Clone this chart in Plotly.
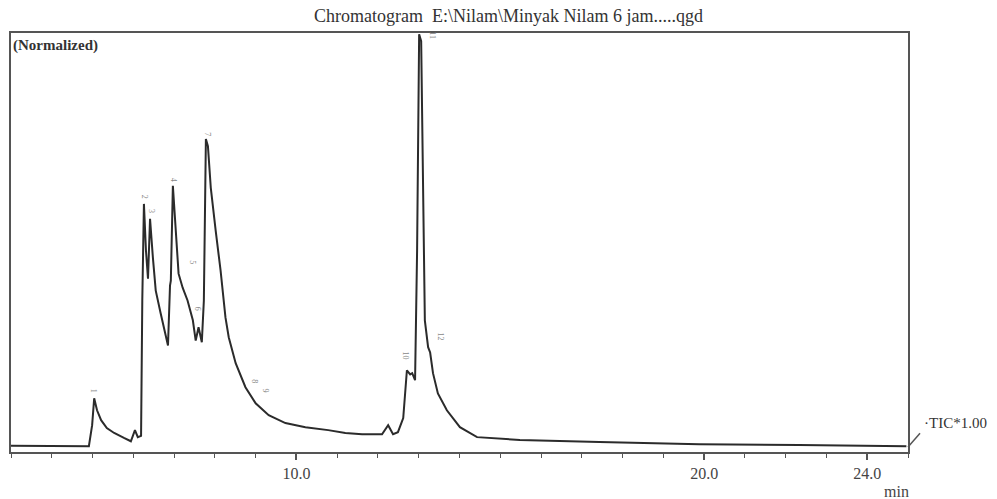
import plotly.graph_objects as go

# Retention time (min) and normalized intensity (%)
time_min = [3.00, 3.99, 4.91, 4.99, 5.04, 5.11, 5.21, 5.35, 5.53, 5.77, 5.94, 6.04, 6.11, 6.19,
            6.22, 6.26, 6.31, 6.36, 6.41, 6.48, 6.55, 6.67, 6.80, 6.85, 6.90, 6.92, 6.97, 7.04,
            7.11, 7.21, 7.33, 7.46, 7.53, 7.60, 7.68, 7.73, 7.78, 7.83, 7.90, 8.02, 8.14, 8.26,
            8.34, 8.51, 8.75, 9.00, 9.32, 9.73, 10.22, 10.78, 11.20, 11.61, 12.10, 12.25, 12.37,
            12.49, 12.62, 12.71, 12.79, 12.84, 12.91, 12.96, 13.01, 13.06, 13.11, 13.15, 13.23,
            13.28, 13.35, 13.47, 13.69, 14.01, 14.43, 15.48, 17.43, 19.88, 22.32, 24.96]
intensity = [0.3, 0.2, 0.2, 5.3, 11.8, 8.9, 6.5, 4.6, 3.4, 2.2, 1.4, 4.1, 2.4, 2.7,
             35.5, 58.9, 47.6, 40.8, 55.3, 45.9, 37.9, 32.4, 26.6, 24.6, 39.1, 40.3, 63.3, 52.4,
             42.0, 38.6, 35.5, 30.7, 25.8, 29.0, 25.4, 35.5, 74.6, 72.9, 62.8, 52.4, 42.8, 31.4,
             26.6, 20.3, 14.5, 10.6, 7.7, 5.8, 4.8, 4.1, 3.4, 3.1, 3.1, 5.3, 3.1,
             3.6, 7.0, 18.6, 17.6, 17.9, 16.2, 47.6, 100.0, 98.3, 59.7, 30.7, 24.2,
             22.9, 17.9, 13.0, 8.9, 4.8, 2.4, 1.7, 1.2, 0.7, 0.5, 0.2]

# Peak number labels
peak_ids = ["1", "2", "3", "4", "5", "6", "7", "8", "9", "10", "11", "12"]
peak_t = [5.04, 6.26, 6.45, 6.97, 7.45, 7.58, 7.80, 8.98, 9.25, 12.68, 13.35, 13.54]
peak_y = [12.6, 59.7, 56.3, 63.8, 43.7, 32.6, 74.9, 15.0, 12.8, 20.8, 98.3, 25.4]

tick_vals = [10, 20, 24]
tick_text = ["10.0", "20.0", "24.0"]

FONT = "Liberation Serif, Times New Roman, serif"
AX = "#555555"

fig = go.Figure()
fig.add_trace(go.Scatter(x=time_min, y=intensity, mode="lines",
                         line=dict(color="#2b2b2b", width=2), hoverinfo="skip"))

for pid, t, y in zip(peak_ids, peak_t, peak_y):
    fig.add_annotation(x=t, y=y, text=pid, showarrow=False, textangle=90,
                       font=dict(family=FONT, size=8, color="#888888"),
                       xanchor="center", yanchor="bottom")

fig.add_annotation(xref="paper", yref="paper", x=0.555, y=1.041,
                   text="Chromatogram\u00a0\u00a0E:\\Nilam\\Minyak Nilam 6 jam.....qgd",
                   showarrow=False, xanchor="center", yanchor="middle",
                   font=dict(family=FONT, size=18, color="#333333"))
fig.add_annotation(xref="paper", yref="paper", x=0.0, y=0.971,
                   text="<b>(Normalized)</b>", showarrow=False, xanchor="left", yanchor="middle",
                   font=dict(family=FONT, size=15, color="#333333"))
fig.add_annotation(xref="paper", yref="paper", x=1.016, y=0.069,
                   text="·TIC*1.00", showarrow=False, xanchor="left", yanchor="middle",
                   font=dict(family=FONT, size=15, color="#333333"))
fig.add_annotation(xref="paper", yref="paper", x=0.987, y=-0.095,
                   text="min", showarrow=False, xanchor="center", yanchor="middle",
                   font=dict(family=FONT, size=16, color="#444444"))
fig.add_shape(type="line", xref="paper", yref="paper", x0=1.0, y0=0.012, x1=1.0134, y1=0.045,
              line=dict(color=AX, width=1.5))

fig.update_xaxes(range=[3.0, 25.0], showgrid=False, zeroline=False,
                 showline=True, linecolor=AX, linewidth=1.5, mirror=True,
                 tickmode="array", tickvals=tick_vals, ticktext=tick_text,
                 ticks="outside", ticklen=6, tickcolor=AX, tickwidth=1.5,
                 minor=dict(dtick=1, tick0=0, ticks="outside", ticklen=4, tickcolor=AX, tickwidth=1),
                 tickfont=dict(family=FONT, size=16, color="#444444"))
fig.update_yaxes(range=[-1.2, 100.3], showgrid=False, zeroline=False,
                 showline=True, linecolor=AX, linewidth=1.5, mirror=True,
                 showticklabels=False, ticks="")

fig.update_layout(width=997, height=499, margin=dict(l=11, r=89, t=33, b=47),
                  plot_bgcolor="white", paper_bgcolor="white", showlegend=False)

fig.write_html("out.html", config={"displayModeBar": False},
               post_script="document.body.style.margin='0';document.body.style.overflow='hidden';")
